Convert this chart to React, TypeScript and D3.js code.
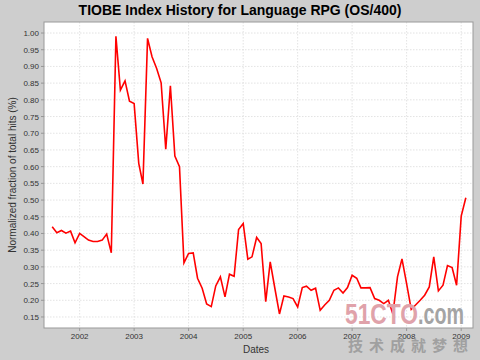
import React from "react";
import * as d3 from "d3";

const startYear = 2001;
const startMonth = 6; // July (0-based)
const values: number[] = [
  // 2001 Jul-Dec
  0.42, 0.402, 0.409, 0.401, 0.407, 0.372,
  // 2002
  0.40, 0.39, 0.38, 0.376, 0.376, 0.38, 0.398, 0.342, 0.99, 0.829, 0.857, 0.796,
  // 2003
  0.789, 0.61, 0.548, 0.984, 0.929, 0.894, 0.851, 0.652, 0.842, 0.632, 0.60, 0.312,
  // 2004
  0.34, 0.342, 0.266, 0.236, 0.189, 0.181, 0.243, 0.27, 0.21, 0.278, 0.272, 0.412,
  // 2005
  0.43, 0.323, 0.33, 0.388, 0.37, 0.196, 0.315, 0.236, 0.159, 0.213, 0.21, 0.205,
  // 2006
  0.18, 0.238, 0.242, 0.23, 0.236, 0.17, 0.186, 0.2, 0.23, 0.237, 0.222, 0.238,
  // 2007
  0.275, 0.266, 0.237, 0.237, 0.238, 0.205, 0.2, 0.19, 0.2, 0.159, 0.27, 0.324,
  // 2008
  0.25, 0.173, 0.186, 0.2, 0.215, 0.24, 0.33, 0.228, 0.245, 0.304, 0.298, 0.245,
  // 2009
  0.452, 0.507,
];
const yTicks: number[] = [0.15, 0.2, 0.25, 0.3, 0.35, 0.4, 0.45, 0.5, 0.55, 0.6, 0.65, 0.7, 0.75, 0.8, 0.85, 0.9, 0.95, 1.0];
const xTickYears: number[] = [2002, 2003, 2004, 2005, 2006, 2007, 2008, 2009];

const W = 480, H = 360;
const L = 44, R = 473, T = 22, B = 328;

export default function App() {
  const dates = values.map((_, i) => new Date(startYear, startMonth + i, 1));
  const x = d3.scaleTime()
    .domain([new Date(2001, 4, 7), new Date(2009, 2, 21)])
    .range([L, R]);
  const y = d3.scaleLinear().domain([0.117, 1.033]).range([B, T]);
  const line = d3.line<number>()
    .x((_, i) => x(dates[i]))
    .y((d) => y(d));
  const font = "Liberation Sans, Arial, sans-serif";
  return (
    <svg width={W} height={H} style={{ position: "absolute", left: 0, top: 0 }} fontFamily={font}>
      <rect x={0} y={0} width={W} height={H} fill="#cecece" />
      <text x={240} y={15} textAnchor="middle" fontSize={14} fontWeight="bold" fill="#000">
        TIOBE Index History for Language RPG (OS/400)
      </text>
      <rect x={L} y={T} width={R - L} height={B - T} fill="#ffffff" />
      {yTicks.map((t) => (
        <g key={"y" + t}>
          <line x1={L} x2={R} y1={y(t)} y2={y(t)} stroke="#dcdcdc" strokeWidth={0.8} strokeDasharray="1.5,1.5" />
          <line x1={L - 3} x2={L} y1={y(t)} y2={y(t)} stroke="#888" strokeWidth={0.8} />
          <text x={L - 5} y={y(t) + 3} textAnchor="end" fontSize={8} fill="#333">{t.toFixed(2)}</text>
        </g>
      ))}
      {xTickYears.map((yr) => {
        const px = x(new Date(yr, 0, 1));
        return (
          <g key={"x" + yr}>
            <line x1={px} x2={px} y1={T} y2={B} stroke="#dcdcdc" strokeWidth={0.8} strokeDasharray="1.5,1.5" />
            <line x1={px} x2={px} y1={B} y2={B + 3} stroke="#888" strokeWidth={0.8} />
            <text x={px} y={339} textAnchor="middle" fontSize={8} fill="#333">{yr}</text>
          </g>
        );
      })}
      <path d={line(values) || ""} fill="none" stroke="#ff0000" strokeWidth={1.6} strokeLinejoin="miter" />
      <rect x={L} y={T} width={R - L} height={B - T} fill="none" stroke="#999" strokeWidth={1} />
      <text x={256} y={353} textAnchor="middle" fontSize={10} fill="#333">Dates</text>
      <text transform={`translate(16,175) rotate(-90)`} textAnchor="middle" fontSize={10} fill="#333">
        Normalized fraction of total hits (%)
      </text>
      <g>
        <text x={345} y={324} fontSize={29} fontWeight="bold" textLength={73} lengthAdjust="spacingAndGlyphs" fill="#e0a2aa">51CTO</text>
        <text x={418} y={324} fontSize={29} fontWeight="bold" textLength={46} lengthAdjust="spacingAndGlyphs" fill="#a4a4a4">.com</text>
        <text x={348} y={351} fontSize={15} fontWeight="bold" textLength={120} lengthAdjust="spacing" fill="#a0a0a0" fontFamily="Noto Sans CJK SC">技术成就梦想</text>
      </g>
    </svg>
  );
}
